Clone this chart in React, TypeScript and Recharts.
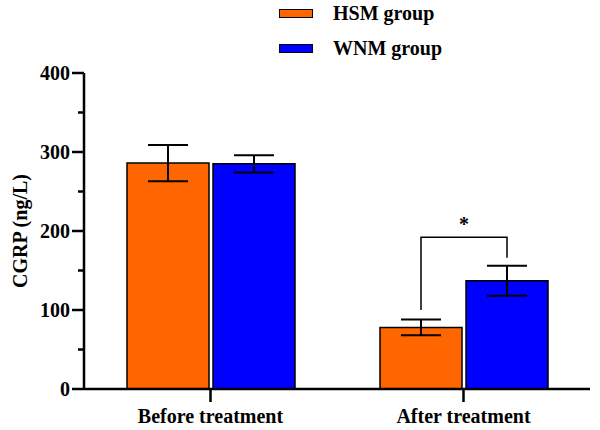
import { Bar, BarChart, ErrorBar, Legend, Rectangle, XAxis, YAxis } from "recharts";

const categories = ["Before treatment", "After treatment"];
const hsmMean = [286, 78];
const hsmSd = [23, 10];
const wnmMean = [285, 137];
const wnmSd = [11, 19];
const yTicks = [0, 50, 100, 150, 200, 250, 300, 350, 400];

// significance bracket over "After treatment", in CGRP units
const sigIndex = 1;
const sigTop = 192;
const sigLeftFoot = 100;
const sigRightFoot = 166;
const sigMark = "*";

const data = categories.map((name, i) => ({
  name,
  hsm: hsmMean[i],
  hsmErr: hsmSd[i],
  wnm: wnmMean[i],
  wnmErr: wnmSd[i],
}));

const FONT = "Liberation Serif, Tinos, Times New Roman, DejaVu Serif, serif";
const FS = 20;
const BAR_SIZE = 82;
const BAR_GAP = 4;
const Y_TICK = 12;
const Y_TICK_MARGIN = 2;

function YTick(props: any) {
  const { x, y, payload } = props;
  const major = payload.value % 100 === 0;
  const axisX = x + Y_TICK + Y_TICK_MARGIN;
  return (
    <g>
      <line x1={axisX - (major ? Y_TICK : 6)} x2={axisX} y1={y} y2={y} stroke="#000" strokeWidth={2.5} />
      {major && (
        <text x={x} y={y} dy="0.35em" textAnchor="end" fontFamily={FONT} fontWeight={700} fontSize={FS}>
          {payload.value}
        </text>
      )}
    </g>
  );
}

function makeShape(side: "left" | "right") {
  return (props: any) => {
    const { x, y, width, height, fill, index, payload } = props;
    const v = side === "left" ? payload.hsm : payload.wnm;
    const base = y + height;
    const k = v ? height / v : 0;
    const cx = x + width / 2;
    const half = (width + BAR_GAP) / 2;
    const showSig = index === sigIndex;
    return (
      <g>
        <Rectangle x={x} y={y} width={width} height={height} fill={fill} stroke="#000" strokeWidth={1.5} />
        {showSig && side === "left" && (
          <path
            d={`M${cx},${base - sigLeftFoot * k}V${base - sigTop * k}H${cx + half}`}
            fill="none"
            stroke="#000"
            strokeWidth={1.5}
          />
        )}
        {showSig && side === "right" && (
          <g>
            <path
              d={`M${cx - half},${base - sigTop * k}H${cx}V${base - sigRightFoot * k}`}
              fill="none"
              stroke="#000"
              strokeWidth={1.5}
            />
            <text
              x={cx - half}
              y={base - sigTop * k - 6}
              textAnchor="middle"
              fontFamily={FONT}
              fontWeight={700}
              fontSize={FS}
            >
              {sigMark}
            </text>
          </g>
        )}
      </g>
    );
  };
}

function LegendBox(props: any) {
  const items = props.payload || [];
  return (
    <div style={{ fontFamily: FONT, fontWeight: 700, fontSize: FS, color: "#000" }}>
      {items.map((item: any) => (
        <div key={item.value} style={{ display: "flex", alignItems: "center", height: 35 }}>
          <div
            style={{
              width: 32,
              height: 7,
              background: item.color,
              border: "1.5px solid #000",
              marginRight: 20,
            }}
          />
          <span>{item.value}</span>
        </div>
      ))}
    </div>
  );
}

export default function App() {
  return (
    <div
      style={{
        position: "absolute",
        left: 0,
        top: 0,
        width: 600,
        height: 430,
        background: "#fff",
        fontFamily: FONT,
      }}
    >
      <BarChart
        width={600}
        height={430}
        data={data}
        margin={{ top: 73, right: 10, bottom: 0, left: 0 }}
        barSize={BAR_SIZE}
        barGap={BAR_GAP}
        style={{ fontFamily: FONT }}
      >
        <XAxis
          dataKey="name"
          height={41}
          axisLine={{ stroke: "#000", strokeWidth: 2.5 }}
          tickLine={{ stroke: "#000", strokeWidth: 2.5 }}
          tickSize={13}
          tickMargin={7}
          tick={{ fill: "#000", fontFamily: FONT, fontWeight: 700, fontSize: FS }}
        />
        <YAxis
          width={84}
          domain={[0, 400]}
          ticks={yTicks}
          interval={0}
          allowDataOverflow
          axisLine={{ stroke: "#000", strokeWidth: 2.5 }}
          tickLine={false}
          tickSize={Y_TICK}
          tickMargin={Y_TICK_MARGIN}
          tick={<YTick />}
          label={{
            value: "CGRP (ng/L)",
            angle: -90,
            position: "insideLeft",
            offset: 20,
            fill: "#000",
            fontFamily: FONT,
            fontWeight: 700,
            fontSize: FS,
            style: { textAnchor: "middle" },
          }}
        />
        <Legend
          layout="vertical"
          verticalAlign="middle"
          align="center"
          content={<LegendBox />}
          wrapperStyle={{ position: "absolute", top: -4, left: 279, width: 200 }}
        />
        <Bar dataKey="hsm" name="HSM group" fill="#FF6600" shape={makeShape("left")} isAnimationActive={false}>
          <ErrorBar dataKey="hsmErr" width={20} stroke="#000" strokeWidth={2} />
        </Bar>
        <Bar dataKey="wnm" name="WNM group" fill="#0000FF" shape={makeShape("right")} isAnimationActive={false}>
          <ErrorBar dataKey="wnmErr" width={20} stroke="#000" strokeWidth={2} />
        </Bar>
      </BarChart>
    </div>
  );
}
